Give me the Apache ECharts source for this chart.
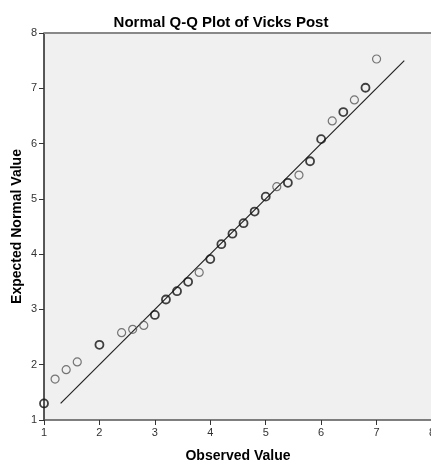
<!DOCTYPE html>
<html><head><meta charset="utf-8">
<script src="https://cdn.jsdelivr.net/npm/echarts@6/dist/echarts.min.js"></script>
<style>html,body{margin:0;padding:0;background:#fff;}#c{width:431px;height:464px;}</style>
</head><body><div id="c"></div>
<script>
var observed = [1.0,1.2,1.4,1.6,2.0,2.4,2.6,2.8,3.0,3.2,3.4,3.6,3.8,4.0,4.2,4.4,4.6,4.8,5.0,5.2,5.4,5.6,5.8,6.0,6.2,6.4,6.6,6.8,7.0];
var expected = [1.30,1.74,1.91,2.05,2.36,2.58,2.64,2.71,2.90,3.18,3.33,3.50,3.67,3.91,4.18,4.37,4.56,4.77,5.04,5.22,5.29,5.43,5.68,6.08,6.41,6.57,6.79,7.01,7.53];
var counts = [2,1,1,1,2,1,1,1,2,2,2,2,1,2,2,2,2,2,2,1,2,1,2,2,1,2,1,2,1];
var refLine = [[1.3,1.3],[7.5,7.5]];
var xTicks = [1,2,3,4,5,6,7,8];
var yTicks = [1,2,3,4,5,6,7,8];

var pts = observed.map(function(x,i){
  return {value:[x,expected[i]], itemStyle:{borderColor: counts[i]>1 ? '#111' : '#555', borderWidth: counts[i]>1 ? 1.8 : 1.2}};
});
var chart = echarts.init(document.getElementById('c'));
chart.setOption({
  animation:false,
  backgroundColor:'#fff',
  title:{text:'Normal Q-Q Plot of Vicks Post', left:216, top:10, textAlign:'center',
    textStyle:{fontFamily:'Liberation Sans, Arial', fontSize:15, fontWeight:'bold', color:'#000'}},
  grid:{left:44, right:-1, top:33, bottom:44, show:true, backgroundColor:'#f0f0f0', borderWidth:0,
    containLabel:false, outerBoundsMode:'none'},
  xAxis:{type:'value', min:1, max:8, interval:1, name:'Observed Value', nameLocation:'middle', nameGap:29,
    nameMoveOverlap:false,
    nameTextStyle:{fontFamily:'Liberation Sans, Arial', fontSize:14, fontWeight:'bold', color:'#000'},
    axisLine:{lineStyle:{color:'#555', width:1.5}}, axisTick:{show:true, length:5, lineStyle:{color:'#333'}},
    axisLabel:{fontFamily:'Liberation Sans, Arial', fontSize:11, color:'#333', margin:7,
      formatter:function(v){return xTicks.indexOf(v)>=0?String(v):'';}},
    splitLine:{show:false}},
  yAxis:{type:'value', min:1, max:8, interval:1, name:'Expected Normal Value', nameLocation:'middle', nameGap:20,
    nameMoveOverlap:false,
    nameTextStyle:{fontFamily:'Liberation Sans, Arial', fontSize:14, fontWeight:'bold', color:'#000'},
    axisLine:{show:true, lineStyle:{color:'#222', width:1.5}}, axisTick:{show:true, length:5, lineStyle:{color:'#333'}},
    axisLabel:{fontFamily:'Liberation Sans, Arial', fontSize:11, color:'#333', margin:7,
      formatter:function(v){return yTicks.indexOf(v)>=0?String(v):'';}},
    splitLine:{show:false}},
  series:[
    {type:'line', data:refLine, symbol:'none', lineStyle:{color:'#222', width:1.2}, z:1},
    {type:'scatter', data:pts, symbol:'circle', symbolSize:8, itemStyle:{color:'rgba(0,0,0,0)'}, z:2},
    {type:'line', data:[[1,8],[8,8]], symbol:'none', lineStyle:{color:'#888', width:2}, silent:true, z:0}
  ]
});
</script></body></html>
